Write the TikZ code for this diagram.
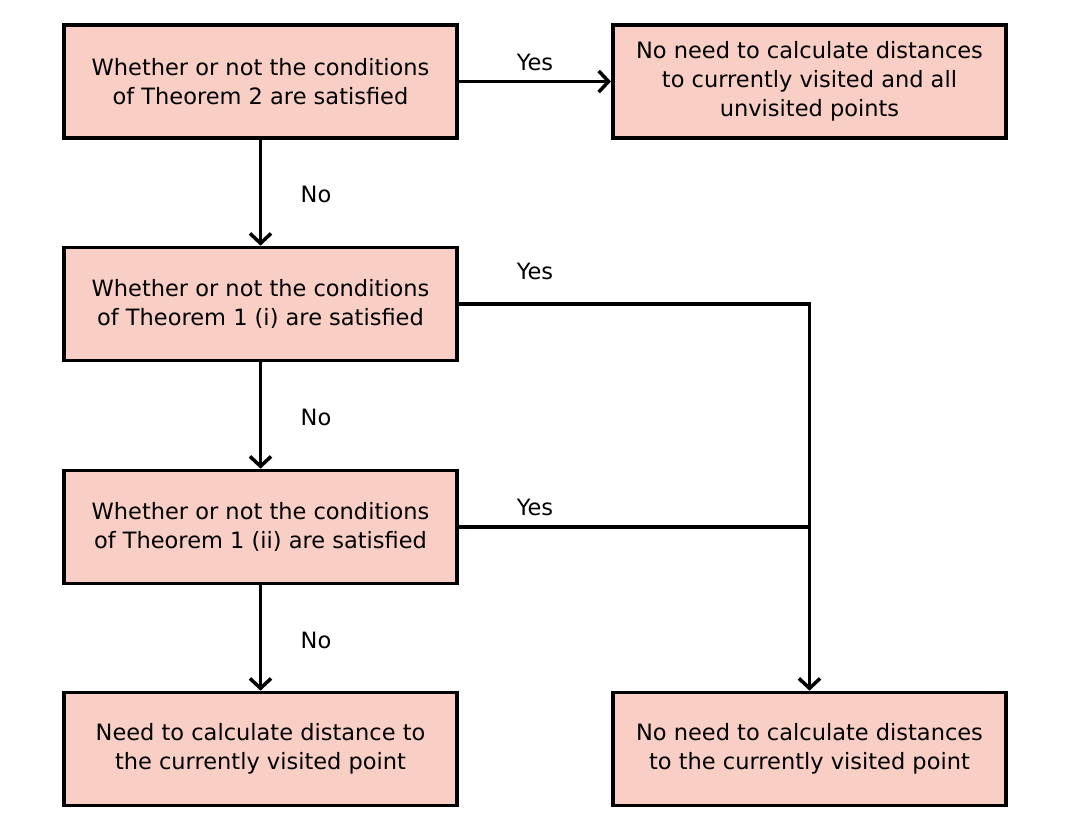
\documentclass[tikz,border=0pt]{standalone}
\usepackage{fontspec}
\setmainfont{DejaVu Sans}
\usetikzlibrary{arrows.meta}
\definecolor{boxfill}{HTML}{F9CFC5}
\begin{document}
\begin{tikzpicture}[x=0.025cm,y=-0.025cm,
  box/.style={draw,fill=boxfill,line width=2.7pt,align=center,font=\fontsize{16}{20.5}\selectfont,minimum width=9.83cm,minimum height=2.82cm,inner sep=0pt},
  lbl/.style={font=\fontsize{16}{20.5}\selectfont,inner sep=0pt},
  flow/.style={line width=2.5pt,-{Straight Barb[length=7pt,width=15pt,line width=2.5pt]}}]
\useasboundingbox (0,0) rectangle (1078,835);
\node[box] (thm2) at (260.5,81.5) {Whether or not the conditions\\of Theorem 2 are satisfied};
\node[box] (noneedall) at (809.5,81.5) {No need to calculate distances\\to currently visited and all\\unvisited points};
\node[box] (thm1i) at (260.5,304) {Whether or not the conditions\\of Theorem 1 (i) are satisfied};
\node[box] (thm1ii) at (260.5,527) {Whether or not the conditions\\of Theorem 1 (ii) are satisfied};
\node[box] (need) at (260.5,749) {Need to calculate distance to\\the currently visited point};
\node[box] (noneed) at (809.5,749) {No need to calculate distances\\to the currently visited point};
\coordinate (join) at (809.5,527);
\draw[flow] (thm2)--(noneedall);
\draw[flow] (thm2)--(thm1i);
\draw[flow] (thm1i)--(thm1ii);
\draw[flow] (thm1ii)--(need);
\draw[flow] (thm1i.east)-|(noneed.north);
\draw[line width=2.5pt] (thm1ii.east)--(join);
\node[lbl] (yes1) at (535,62) {Yes};
\node[lbl] (yes2) at (535,271) {Yes};
\node[lbl] (yes3) at (535,507) {Yes};
\node[lbl] (no1) at (316,194) {No};
\node[lbl] (no2) at (316,417) {No};
\node[lbl] (no3) at (316,640) {No};
\end{tikzpicture}
\end{document}
